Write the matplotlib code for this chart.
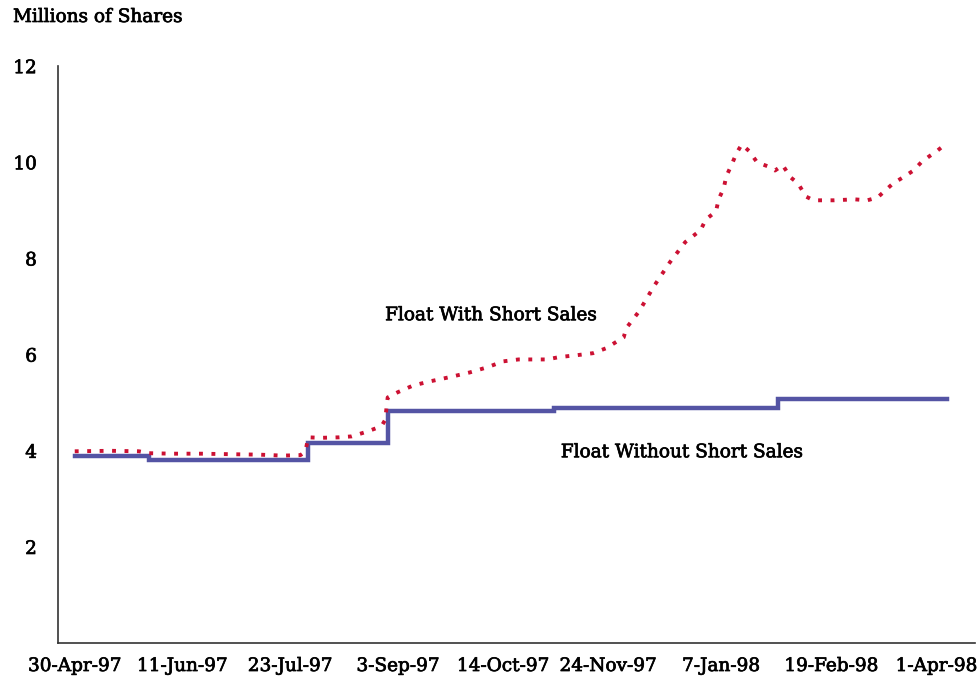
import matplotlib
matplotlib.use("Agg")
import matplotlib.pyplot as plt
import matplotlib.dates as mdates
import matplotlib.patheffects as pe
import pandas as pd

# float without short sales (step series)
plain_dates = ["1997-04-30", "1997-05-29", "1997-07-30", "1997-08-30",
               "1997-11-03", "1998-01-29", "1998-04-05"]
plain_vals = [3.89, 3.80, 4.17, 4.83, 4.88, 5.07, 5.07]

# float with short sales
short_dates = ["1997-04-30", "1997-05-14", "1997-05-25", "1997-05-29", "1997-06-07",
               "1997-06-18", "1997-06-29", "1997-07-11", "1997-07-20", "1997-07-27",
               "1997-07-28", "1997-07-29", "1997-07-30", "1997-08-04", "1997-08-11",
               "1997-08-16", "1997-08-22", "1997-08-26", "1997-08-28", "1997-08-29",
               "1997-08-30", "1997-09-03", "1997-09-09", "1997-09-16", "1997-09-23",
               "1997-10-01", "1997-10-08", "1997-10-14", "1997-10-20", "1997-10-31",
               "1997-11-05", "1997-11-12", "1997-11-18", "1997-11-23", "1997-11-30",
               "1997-12-01", "1997-12-06", "1997-12-12", "1997-12-18", "1997-12-24",
               "1997-12-30", "1998-01-01", "1998-01-05", "1998-01-06", "1998-01-08",
               "1998-01-09", "1998-01-11", "1998-01-13", "1998-01-15", "1998-01-18",
               "1998-01-21", "1998-01-25", "1998-01-28", "1998-01-31", "1998-02-03",
               "1998-02-06", "1998-02-09", "1998-02-12", "1998-02-20", "1998-02-28",
               "1998-03-05", "1998-03-09", "1998-03-15", "1998-03-19", "1998-03-23",
               "1998-03-26", "1998-03-29", "1998-04-01", "1998-04-05"]
short_vals = [3.99, 4.00, 3.99, 3.95, 3.94,
              3.94, 3.93, 3.92, 3.90, 3.91,
              3.95, 4.00, 4.28, 4.27, 4.28,
              4.30, 4.40, 4.48, 4.55, 4.64,
              5.11, 5.22, 5.36, 5.45, 5.53,
              5.63, 5.74, 5.86, 5.90, 5.90,
              5.95, 5.99, 6.03, 6.13, 6.36,
              6.55, 6.90, 7.44, 7.92, 8.34,
              8.59, 8.81, 8.98, 9.23, 9.46,
              9.71, 9.94, 10.19, 10.37, 10.23,
              10.00, 9.92, 9.83, 9.94, 9.69,
              9.56, 9.29, 9.21, 9.21, 9.23,
              9.21, 9.27, 9.56, 9.69, 9.83,
              10.00, 10.12, 10.23, 10.40]

tick_dates = ["1997-04-30", "1997-06-11", "1997-07-23", "1997-09-03", "1997-10-14",
              "1997-11-24", "1998-01-07", "1998-02-19", "1998-04-01"]
tick_labels = ["30-Apr-97", "11-Jun-97", "23-Jul-97", "3-Sep-97", "14-Oct-97",
               "24-Nov-97", "7-Jan-98", "19-Feb-98", "1-Apr-98"]
y_ticks = [2, 4, 6, 8, 10, 12]

plt.rcParams['font.family'] = ['DejaVu Serif']
plt.rcParams['font.size'] = 13.3

# slightly heavier text, the original font is a dark schoolbook face
heavy = [pe.withStroke(linewidth=0.5, foreground='black')]

fig = plt.figure(figsize=(9.8, 6.82), dpi=100)
ax = fig.add_axes([0.059, 0.057, 0.936, 0.846])

ax.plot(pd.to_datetime(plain_dates), plain_vals, drawstyle='steps-post',
        color='#5454A4', lw=3.2, solid_joinstyle='miter')
ax.plot(pd.to_datetime(short_dates), short_vals, color='#CC1133', lw=2.8,
        linestyle=(0, (1.0, 2.2)))

start = mdates.date2num(pd.Timestamp("1997-04-30"))
ax.set_xlim(start - 6.6, start + 351)
ax.set_ylim(0, 12)

ax.set_xticks(pd.to_datetime(tick_dates))
ax.set_xticklabels(tick_labels)
ax.set_yticks(y_ticks)
ax.tick_params(axis='both', length=0)
ax.tick_params(axis='y', pad=15)
ax.tick_params(axis='x', pad=10)
for lab in ax.get_xticklabels() + ax.get_yticklabels():
    lab.set_path_effects(heavy)

for side in ['top', 'right']:
    ax.spines[side].set_visible(False)
for side in ['left', 'bottom']:
    ax.spines[side].set_color('#333333')
    ax.spines[side].set_linewidth(1.2)

ax.text(start + 121, 6.82, "Float With Short Sales", va='center', ha='left',
        path_effects=heavy)
ax.text(start + 189.5, 3.97, "Float Without Short Sales", va='center', ha='left',
        path_effects=heavy)
fig.text(13 / 980, 1 - 17 / 682, "Millions of Shares", va='center', ha='left',
         path_effects=heavy)

fig.savefig("out.png", dpi=100)
